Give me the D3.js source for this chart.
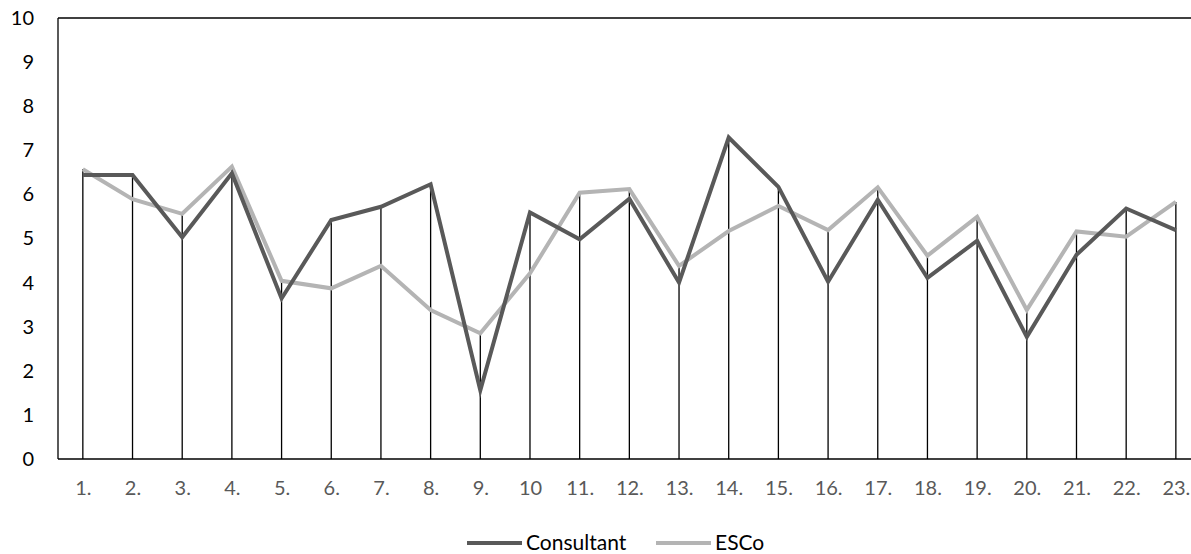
<!DOCTYPE html>
<html>
<head>
<meta charset="utf-8">
<script src="https://cdn.jsdelivr.net/npm/d3@7"></script>
<style>
  html, body { margin: 0; padding: 0; background: #fff; }
  svg { display: block; font-family: Lato, "Open Sans", sans-serif; }
</style>
</head>
<body>
<svg id="chart" width="1191" height="554"></svg>
<script>
// Item labels along the horizontal axis
const categories = ["1.", "2.", "3.", "4.", "5.", "6.", "7.", "8.", "9.", "10", "11.", "12.",
  "13.", "14.", "15.", "16.", "17.", "18.", "19.", "20.", "21.", "22.", "23."];

// Scores per item
const consultant = [6.44, 6.44, 5.03, 6.48, 3.64, 5.42, 5.72, 6.23, 1.56, 5.59, 4.98, 5.90,
  4.00, 7.29, 6.17, 4.02, 5.88, 4.11, 4.95, 2.77, 4.63, 5.68, 5.19];
const esco = [6.57, 5.89, 5.56, 6.63, 4.04, 3.87, 4.38, 3.38, 2.85, 4.21, 6.04, 6.12,
  4.38, 5.17, 5.74, 5.19, 6.16, 4.61, 5.49, 3.38, 5.16, 5.04, 5.83];

const yTicks = [0, 1, 2, 3, 4, 5, 6, 7, 8, 9, 10];

const seriesNames = ["Consultant", "ESCo"];
const seriesColors = ["#595959", "#b4b4b4"];

const svg = d3.select("#chart");
const plotLeft = 58, plotTop = 18, plotBottom = 459, plotRight = 1200.7;

const x = d3.scalePoint().domain(categories).range([plotLeft, plotRight]).padding(0.5);
const y = d3.scaleLinear().domain([0, 10]).range([plotBottom, plotTop]);

// Plot frame: left axis, top edge
svg.append("line").attr("x1", plotLeft).attr("x2", 1191).attr("y1", plotTop).attr("y2", plotTop)
  .attr("stroke", "#000").attr("stroke-width", 1.3);
svg.append("line").attr("x1", plotLeft).attr("x2", plotLeft).attr("y1", plotTop).attr("y2", plotBottom)
  .attr("stroke", "#000").attr("stroke-width", 1.3);

// Drop lines from the higher of the two series down to the baseline
const drops = categories.map((c, i) => ({ c, v: Math.max(consultant[i], esco[i]) }));
svg.append("g").selectAll("line").data(drops).join("line")
  .attr("x1", d => x(d.c)).attr("x2", d => x(d.c))
  .attr("y1", d => y(d.v)).attr("y2", plotBottom)
  .attr("stroke", "#000").attr("stroke-width", 1.3);

// Baseline
svg.append("line").attr("x1", plotLeft).attr("x2", 1191).attr("y1", plotBottom).attr("y2", plotBottom)
  .attr("stroke", "#000").attr("stroke-width", 1.5);

// Y axis labels
const yAxis = d3.axisLeft(y).tickValues(yTicks).tickSize(0).tickPadding(24);
const gy = svg.append("g").attr("transform", `translate(${plotLeft},0)`).call(yAxis);
gy.select(".domain").remove();
gy.selectAll("text").attr("font-size", 20).attr("fill", "#000")
  .attr("font-family", "Lato, 'Open Sans', sans-serif");

// X axis labels
const xAxis = d3.axisBottom(x).tickSize(0).tickPadding(22);
const gx = svg.append("g").attr("transform", `translate(0,${plotBottom})`).call(xAxis);
gx.select(".domain").remove();
gx.selectAll("text").attr("font-size", 20).attr("fill", "#595959")
  .attr("font-family", "Lato, 'Open Sans', sans-serif");

// Series lines (ESCo beneath, Consultant on top)
const line = d3.line().x((d, i) => x(categories[i])).y(d => y(d));
[[esco, 1], [consultant, 0]].forEach(([vals, idx]) => {
  svg.append("path").datum(vals)
    .attr("d", line)
    .attr("fill", "none")
    .attr("stroke", seriesColors[idx])
    .attr("stroke-width", 4)
    .attr("stroke-linejoin", "miter")
    .attr("stroke-linecap", "butt");
});

// Legend
const legendX = [467, 656];
const legend = svg.append("g");
seriesNames.forEach((name, i) => {
  legend.append("line")
    .attr("x1", legendX[i]).attr("x2", legendX[i] + 55)
    .attr("y1", 543).attr("y2", 543)
    .attr("stroke", seriesColors[i]).attr("stroke-width", 4);
  legend.append("text")
    .attr("x", legendX[i] + 59).attr("y", 543)
    .attr("dy", "0.35em")
    .attr("font-size", 21).attr("fill", "#000")
    .text(name);
});
</script>
</body>
</html>
